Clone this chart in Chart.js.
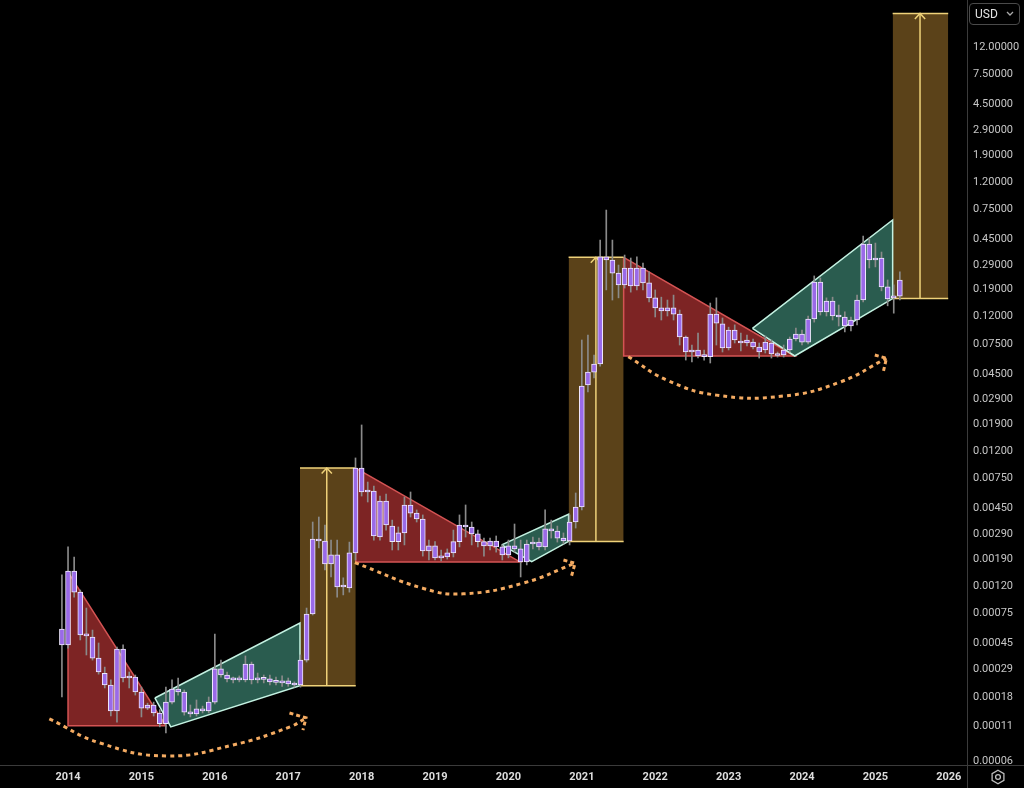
<!DOCTYPE html>
<html>
<head>
<meta charset="utf-8">
<script src="https://cdn.jsdelivr.net/npm/chart.js@4.4.1/dist/chart.umd.min.js"></script>
<style>
    html, body { margin: 0; padding: 0; background: #000; }
    #wrap { position: relative; width: 1024px; height: 788px; overflow: hidden; }
    #usd {
        position: absolute; left: 969px; top: 3px; width: 51px; height: 22px;
        box-sizing: border-box; border: 1px solid #4a4a4a; border-radius: 4px;
        color: #e2e2e2; font: 12px Roboto, sans-serif; line-height: 20px; padding-left: 5px;
    }
    #usd svg { position: absolute; right: 5px; top: 7px; }
    #gear { position: absolute; left: 990px; top: 769px; }
</style>
</head>
<body>
<div id="wrap">
    <canvas id="dogeChart" width="1024" height="788"></canvas>
    <div id="usd">USD<svg width="8" height="6" viewBox="0 0 8 6"><polyline points="1,1 4,4 7,1" fill="none" stroke="#aaa" stroke-width="1.3"/></svg></div>
    <svg id="gear" width="16" height="16" viewBox="0 0 16 16">
        <polygon points="8,1.2 13.9,4.6 13.9,11.4 8,14.8 2.1,11.4 2.1,4.6" fill="none" stroke="#bdbdbd" stroke-width="1.3"/>
        <circle cx="8" cy="8" r="2.4" fill="none" stroke="#bdbdbd" stroke-width="1.3"/>
    </svg>
</div>
<script>
(function () {
    'use strict';

    // monthly candles, the first one is Dec 2013
    const firstCandle = 2013 + 11 / 12;

    const open = [
        0.000575, 0.000438, 0.00155, 0.00108, 0.00052, 0.000502, 0.00035, 0.00027, 0.000221, 0.000142,
        0.000408, 0.000249, 0.000253, 0.000196, 0.000149, 0.000157, 0.000137, 0.000114, 0.000165, 0.000206,
        0.000196, 0.000139, 0.000135, 0.000147, 0.000142, 0.000165, 0.000291, 0.000262, 0.000245, 0.000241,
        0.000241, 0.000316, 0.000241, 0.000245, 0.000245, 0.000233, 0.000229, 0.000237, 0.000225, 0.000221,
        0.000338, 0.000743, 0.00268, 0.00259, 0.00175, 0.00204, 0.00118, 0.00116, 0.00211, 0.009,
        0.00598, 0.00608, 0.00277, 0.00513, 0.00334, 0.00256, 0.00297, 0.00479, 0.00417, 0.00377,
        0.00218, 0.00238, 0.00194, 0.00197, 0.00211, 0.00256, 0.0034, 0.00329, 0.00292, 0.00256,
        0.00238, 0.00259, 0.00234, 0.00204, 0.00238, 0.00226, 0.00181, 0.00246, 0.00254, 0.00234,
        0.00318, 0.00307, 0.00272, 0.00259, 0.00358, 0.00463, 0.0372, 0.0464, 0.0533, 0.332,
        0.315, 0.252, 0.206, 0.275, 0.202, 0.275, 0.213, 0.165, 0.139, 0.132,
        0.139, 0.125, 0.0845, 0.0654, 0.0677, 0.0611, 0.0605, 0.125, 0.106, 0.07,
        0.0952, 0.079, 0.0763, 0.0775, 0.0713, 0.0677, 0.0763, 0.0621, 0.0621, 0.0677,
        0.0817, 0.089, 0.0775, 0.115, 0.216, 0.13, 0.156, 0.121, 0.119, 0.102,
        0.113, 0.159, 0.414, 0.32, 0.326, 0.199, 0.165, 0.17
    ];
    const high = [
        0.00145, 0.00234, 0.00197, 0.00112, 0.000823, 0.000565, 0.000453, 0.0003, 0.000241, 0.000423,
        0.000438, 0.000276, 0.000262, 0.000213, 0.000162, 0.000165, 0.000145, 0.000213, 0.000241, 0.000249,
        0.000203, 0.000157, 0.000171, 0.000154, 0.00018, 0.000528, 0.000338, 0.000276, 0.000253, 0.000258,
        0.000363, 0.000327, 0.000271, 0.000262, 0.000262, 0.000253, 0.000258, 0.000249, 0.000233, 0.000369,
        0.000823, 0.00358, 0.0039, 0.0034, 0.00263, 0.00263, 0.00138, 0.00254, 0.0107, 0.0188,
        0.00709, 0.00662, 0.00558, 0.00578, 0.0037, 0.00329, 0.00549, 0.00598, 0.0044, 0.00404,
        0.00263, 0.00256, 0.00222, 0.00226, 0.00312, 0.00404, 0.00479, 0.00358, 0.00312, 0.00272,
        0.00272, 0.00282, 0.00242, 0.00263, 0.00346, 0.00263, 0.00263, 0.00277, 0.00272, 0.0044,
        0.0037, 0.00334, 0.00297, 0.00404, 0.00588, 0.0803, 0.0875, 0.0621, 0.443, 0.74,
        0.443, 0.289, 0.343, 0.326, 0.332, 0.299, 0.257, 0.189, 0.167, 0.159,
        0.173, 0.134, 0.086, 0.0737, 0.0905, 0.0677, 0.151, 0.165, 0.117, 0.1,
        0.104, 0.0905, 0.0875, 0.0817, 0.0763, 0.086, 0.0803, 0.0654, 0.0737, 0.0845,
        0.0986, 0.0952, 0.121, 0.24, 0.232, 0.165, 0.167, 0.146, 0.13, 0.119,
        0.173, 0.475, 0.459, 0.421, 0.361, 0.224, 0.206, 0.257
    ];
    const low = [
        0.00018, 0.000415, 0.00099, 0.000477, 0.000369, 0.000338, 0.000266, 0.00021, 0.00013, 0.000117,
        0.000233, 0.00021, 0.000186, 0.000128, 0.000145, 0.00013, 0.000108, 0.0000973, 0.00016, 0.000186,
        0.000132, 0.000128, 0.00013, 0.000137, 0.000137, 0.00016, 0.000253, 0.000233, 0.000229, 0.000233,
        0.000233, 0.000225, 0.000229, 0.000229, 0.000221, 0.000221, 0.000216, 0.000216, 0.000213, 0.000213,
        0.000327, 0.000731, 0.0023, 0.00158, 0.0014, 0.00099, 0.00103, 0.00108, 0.00187, 0.00558,
        0.00504, 0.00263, 0.00263, 0.00312, 0.00222, 0.00222, 0.00242, 0.0039, 0.00358, 0.002,
        0.00187, 0.00187, 0.00184, 0.0019, 0.00197, 0.00234, 0.00277, 0.00242, 0.00234, 0.002,
        0.00222, 0.00214, 0.00187, 0.00194, 0.00214, 0.0014, 0.00172, 0.00226, 0.00222, 0.00222,
        0.00272, 0.00254, 0.00246, 0.00242, 0.00323, 0.0044, 0.033, 0.042, 0.0513, 0.189,
        0.159, 0.165, 0.195, 0.182, 0.189, 0.189, 0.154, 0.119, 0.113, 0.121,
        0.113, 0.0737, 0.057, 0.0552, 0.059, 0.057, 0.0542, 0.0737, 0.0654, 0.0677,
        0.0763, 0.0665, 0.0726, 0.0689, 0.059, 0.0643, 0.059, 0.06, 0.06, 0.0654,
        0.079, 0.0737, 0.075, 0.109, 0.123, 0.121, 0.113, 0.102, 0.0922, 0.0936,
        0.104, 0.154, 0.275, 0.28, 0.186, 0.144, 0.127, 0.159
    ];
    const close = [
        0.000438, 0.00155, 0.00108, 0.00052, 0.000511, 0.00035, 0.000276, 0.000221, 0.000142, 0.000408,
        0.000249, 0.000253, 0.000196, 0.000149, 0.000157, 0.000137, 0.000114, 0.000165, 0.000206, 0.000196,
        0.000139, 0.000135, 0.000147, 0.000142, 0.000165, 0.000291, 0.000262, 0.000245, 0.000241, 0.000245,
        0.000316, 0.000241, 0.000245, 0.000243, 0.000233, 0.000231, 0.000237, 0.000225, 0.000221, 0.000338,
        0.000743, 0.00268, 0.00259, 0.00175, 0.00204, 0.00118, 0.0012, 0.00211, 0.009, 0.00598,
        0.00608, 0.00282, 0.00513, 0.0034, 0.00256, 0.00297, 0.00479, 0.00417, 0.00377, 0.00218,
        0.00238, 0.00194, 0.00197, 0.00211, 0.00256, 0.0034, 0.00329, 0.00292, 0.00256, 0.00238,
        0.00259, 0.00234, 0.00204, 0.00238, 0.00226, 0.00181, 0.00246, 0.00254, 0.00234, 0.00318,
        0.00307, 0.00272, 0.00259, 0.00358, 0.00463, 0.0366, 0.0464, 0.0533, 0.332, 0.315,
        0.252, 0.206, 0.275, 0.202, 0.275, 0.213, 0.165, 0.139, 0.132, 0.139,
        0.125, 0.0845, 0.0654, 0.0677, 0.0611, 0.0605, 0.125, 0.107, 0.07, 0.0952,
        0.0803, 0.0763, 0.0803, 0.0713, 0.0654, 0.0775, 0.0632, 0.0616, 0.0677, 0.0817,
        0.089, 0.0775, 0.115, 0.216, 0.13, 0.156, 0.121, 0.119, 0.102, 0.113,
        0.159, 0.414, 0.315, 0.315, 0.199, 0.162, 0.17, 0.224
    ];

    const yearLabels = ['2014', '2015', '2016', '2017', '2018', '2019', '2020', '2021', '2022', '2023', '2024', '2025', '2026'];
    const priceTicks = [12, 7.5, 4.5, 2.9, 1.9, 1.2, 0.75, 0.45, 0.29, 0.19, 0.12, 0.075, 0.045, 0.029, 0.019,
        0.012, 0.0075, 0.0045, 0.0029, 0.0019, 0.0012, 0.00075, 0.00045, 0.00029, 0.00018, 0.00011, 0.00006];

    // falling phases: right triangle from the top at x0 down to the bottom at x1
    const redZones = [
        { x0: 2014.0, x1: 2015.333, top: 0.00152, bottom: 0.00011 },
        { x0: 2017.92, x1: 2020.158, top: 0.009, bottom: 0.00181 },
        { x0: 2021.57, x1: 2023.9, top: 0.33, bottom: 0.0611 }
    ];
    // accumulation channels: left corner, lowest corner, right edge
    const greenZones = [
        { left: [2015.183, 0.000177], low: [2015.4, 0.000108], x1: 2017.16, top: 0.000637, bottom: 0.000218 },
        { left: [2019.908, 0.00242], low: [2020.317, 0.00182], x1: 2020.82, top: 0.00409, bottom: 0.00257 },
        { left: [2023.325, 0.098], low: [2023.9, 0.0611], x1: 2025.235, top: 0.624, bottom: 0.163 }
    ];
    // breakout boxes with the up arrow
    const targetBoxes = [
        { x0: 2017.16, x1: 2017.92, top: 0.009, bottom: 0.000218, arrowX: 2017.525 },
        { x0: 2020.82, x1: 2021.57, top: 0.33, bottom: 0.00257, arrowX: 2021.192 },
        { x0: 2025.235, x1: 2025.992, top: 21.3, bottom: 0.163, arrowX: 2025.608 }
    ];
    const swingArrows = [
        [[2013.745, 0.000124], [2014.436, 0.000082], [2015.344, 0.0000657], [2016.248, 0.0000793], [2017.024, 0.000108], [2017.242, 0.000126]],
        [[2017.908, 0.00179], [2018.842, 0.00115], [2019.383, 0.00105], [2020.2, 0.00126], [2020.908, 0.00177]],
        [[2021.633, 0.0604], [2022.158, 0.0405], [2022.833, 0.0313], [2023.742, 0.0308], [2024.517, 0.0391], [2025.15, 0.0588]]
    ];
    const arrowHeads = [
        [[2017.017, 0.000137], [2017.242, 0.000126], [2017.2, 0.000102]],
        [[2020.75, 0.00187], [2020.908, 0.00177], [2020.858, 0.00141]],
        [[2024.992, 0.0621], [2025.15, 0.0588], [2025.108, 0.0467]]
    ];

    const RED_FILL = '#7d2424';
    const RED_EDGE = '#d45454';
    const GREEN_FILL = '#2a5c4f';
    const GREEN_EDGE = '#c4f2e2';
    const BROWN_FILL = '#5b4219';
    const GOLD = '#efd27a';
    const ORANGE = '#f4ab62';

    const datasets = [];
    const candleX = open.map((_, i) => firstCandle + i / 12);

    datasets.push({
        type: 'bar',
        data: candleX.map((x, i) => ({ x: x, y: [low[i], high[i]] })),
        backgroundColor: '#8a8a8a',
        barThickness: 1,
        grouped: false,
        order: 50
    });
    datasets.push({
        type: 'bar',
        data: candleX.map((x, i) => ({ x: x, y: [open[i], close[i]] })),
        backgroundColor: '#9a6ae8',
        borderColor: '#f0e8ff',
        borderWidth: 1,
        borderSkipped: false,
        barThickness: 5,
        minBarLength: 2,
        grouped: false,
        order: 40
    });

    function addLine(points, opts) {
        datasets.push(Object.assign({
            type: 'line',
            data: points.map(p => ({ x: p[0], y: p[1] })),
            pointRadius: 0,
            borderWidth: 0,
            tension: 0,
            fill: false
        }, opts));
        return datasets.length - 1;
    }

    redZones.forEach(z => {
        const base = addLine([[z.x0, z.bottom], [z.x1, z.bottom]], { order: 100 });
        addLine([[z.x0, z.top], [z.x1, z.bottom]], { fill: base, backgroundColor: RED_FILL, order: 100 });
        addLine([[z.x0, z.top], [z.x1, z.bottom], [z.x0, z.bottom], [z.x0, z.top]],
            { borderColor: RED_EDGE, borderWidth: 1.5, order: 75 });
    });

    greenZones.forEach(z => {
        const base = addLine([z.left, z.low, [z.x1, z.bottom]], { order: 90 });
        addLine([z.left, [z.x1, z.top]], { fill: base, backgroundColor: GREEN_FILL, order: 90 });
        addLine([z.left, [z.x1, z.top], [z.x1, z.bottom], z.low, z.left],
            { borderColor: GREEN_EDGE, borderWidth: 1.5, order: 70 });
    });

    targetBoxes.forEach(b => {
        const base = addLine([[b.x0, b.bottom], [b.x1, b.bottom]], { order: 80 });
        addLine([[b.x0, b.top], [b.x1, b.top]], { fill: base, backgroundColor: BROWN_FILL, order: 80 });
        addLine([[b.x0, b.top], [b.x1, b.top], [b.x1, null], [b.x0, b.bottom], [b.x1, b.bottom]],
            { borderColor: GOLD, borderWidth: 1.5, order: 65 });
        addLine([[b.arrowX, b.bottom], [b.arrowX, b.top]], { borderColor: GOLD, borderWidth: 1.5, order: 64 });
        addLine([[b.arrowX - 0.07, b.top * 0.91], [b.arrowX, b.top], [b.arrowX + 0.07, b.top * 0.91]],
            { borderColor: GOLD, borderWidth: 1.5, order: 64 });
    });

    swingArrows.forEach(a => addLine(a, {
        borderColor: ORANGE, borderWidth: 3, borderDash: [4, 4], tension: 0.45, order: 30
    }));
    arrowHeads.forEach(a => addLine(a, {
        borderColor: ORANGE, borderWidth: 3, borderDash: [4, 3], order: 30
    }));

    const frame = {
        id: 'frame',
        afterDraw(chart) {
            const ctx = chart.ctx;
            const area = chart.chartArea;
            ctx.save();
            ctx.strokeStyle = '#3b3b3b';
            ctx.lineWidth = 1;
            ctx.beginPath();
            ctx.moveTo(area.right, area.bottom + 0.5);
            ctx.lineTo(chart.width, area.bottom + 0.5);
            ctx.moveTo(area.right + 0.5, area.bottom);
            ctx.lineTo(area.right + 0.5, chart.height);
            ctx.stroke();
            ctx.restore();
        }
    };

    new Chart(document.getElementById('dogeChart'), {
        type: 'bar',
        data: { datasets: datasets },
        plugins: [frame],
        options: {
            responsive: false,
            devicePixelRatio: 1,
            animation: false,
            events: [],
            layout: { padding: 0, autoPadding: false },
            plugins: {
                legend: { display: false },
                tooltip: { enabled: false }
            },
            scales: {
                x: {
                    type: 'linear',
                    min: 2013.073,
                    max: 2026.248,
                    offset: false,
                    grid: { display: false, drawTicks: false },
                    border: { display: true, color: '#3b3b3b' },
                    afterBuildTicks: s => { s.ticks = yearLabels.map(y => ({ value: Number(y) })); },
                    ticks: {
                        color: '#dedede',
                        font: { family: 'Roboto', size: 11, weight: 'bold' },
                        padding: 6,
                        autoSkip: false,
                        maxRotation: 0,
                        callback: v => String(v)
                    },
                    afterFit: s => { s.height = 23; s.paddingLeft = 0; s.paddingRight = 0; }
                },
                y: {
                    type: 'logarithmic',
                    position: 'right',
                    min: 0.0000563,
                    max: 26.8,
                    beginAtZero: false,
                    grid: { display: false, drawTicks: false },
                    border: { display: true, color: '#3b3b3b' },
                    afterBuildTicks: s => { s.ticks = priceTicks.map(v => ({ value: v })); },
                    ticks: {
                        color: '#c6c6c6',
                        font: { family: 'Roboto', size: 11 },
                        padding: 6,
                        autoSkip: false,
                        callback: v => Number(v).toFixed(5)
                    },
                    afterFit: s => { s.width = 57; s.paddingTop = 0; s.paddingBottom = 0; }
                }
            }
        }
    });
})();
</script>
</body>
</html>
